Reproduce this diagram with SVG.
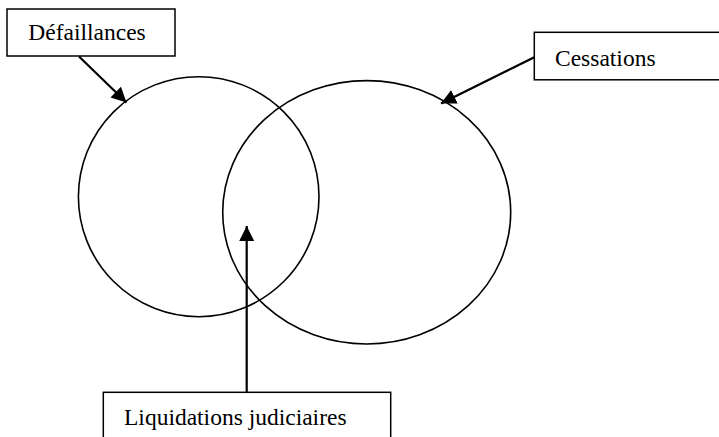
<svg xmlns="http://www.w3.org/2000/svg" width="719" height="437" viewBox="0 0 719 437">
  <style>
    .box { fill: #ffffff; stroke: #000000; stroke-width: 1.5; }
    .lbl { font-size: 23.5px; fill: #000000; }
    .set { fill: none; stroke: #000000; stroke-width: 1.6; }
    .arr { fill: none; stroke: #000000; stroke-width: 2.2; marker-end: url(#head); }
  </style>
  <defs>
    <marker id="head" markerUnits="userSpaceOnUse" markerWidth="16" markerHeight="16" viewBox="0 0 16 16" refX="15" refY="8" orient="auto">
      <path d="M0,0.5 L15,8 L0,15.5 Z" fill="#000000"/>
    </marker>
  </defs>
  <rect width="719" height="437" fill="#ffffff"/>
  <g id="sets">
    <ellipse id="set-defaillances" class="set" cx="198.7" cy="196.7" rx="120.3" ry="120"/>
    <ellipse id="set-cessations" class="set" cx="366.7" cy="212.3" rx="144" ry="131.7"/>
  </g>
  <g id="connectors">
    <line class="arr" x1="79" y1="56.5" x2="126.5" y2="102.5"/>
    <line class="arr" x1="534.3" y1="57.3" x2="441" y2="103.5"/>
    <line class="arr" x1="246.7" y1="392" x2="246.7" y2="226"/>
  </g>
  <g id="node-defaillances">
    <rect class="box" x="7" y="9" width="168" height="47"/>
    <text class="lbl" font-family="Liberation Serif, Tinos, Times New Roman, serif" x="28.3" y="40">Défaillances</text>
  </g>
  <g id="node-cessations">
    <rect class="box" x="534.3" y="32.3" width="200" height="47.5"/>
    <text class="lbl" font-family="Liberation Serif, Tinos, Times New Roman, serif" x="555" y="65.5">Cessations</text>
  </g>
  <g id="node-liquidations">
    <rect class="box" x="103.3" y="392.3" width="287.4" height="60"/>
    <text class="lbl" font-family="Liberation Serif, Tinos, Times New Roman, serif" x="124" y="424.5">Liquidations judiciaires</text>
  </g>
</svg>
